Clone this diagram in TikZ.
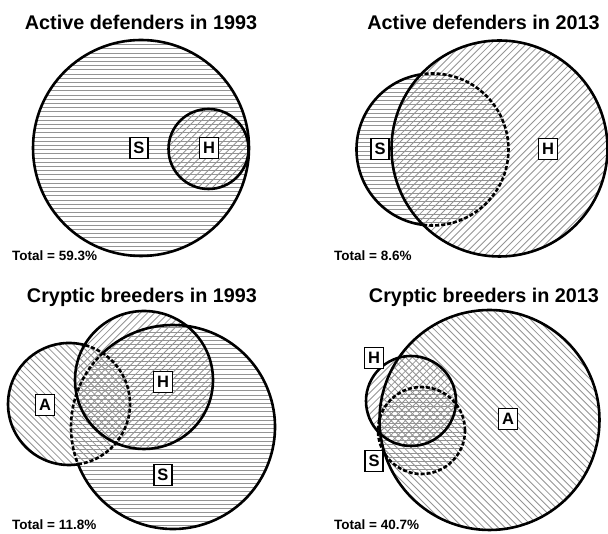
\documentclass[tikz,border=0pt]{standalone}
\usepackage{fontspec}
\setmainfont{Liberation Sans}
\definecolor{hatch}{gray}{0.58}
\tikzset{
  ring/.style={line width=2.6pt, draw=black},
  innerdash/.style={dash pattern=on 4pt off 2pt},
  hatchline/.style={draw=hatch, line width=0.85pt},
  setlabel/.style={draw, fill=white, line width=1.3pt, inner xsep=3.5pt, inner ysep=0pt,
    minimum height=21pt, font=\fontsize{16.5}{16.5}\selectfont\bfseries},
  paneltitle/.style={anchor=base, inner sep=0pt, font=\fontsize{19.8}{20}\selectfont\bfseries},
  total/.style={anchor=base west, inner sep=0pt, font=\fontsize{13.5}{14}\selectfont\bfseries},
}
% #1 x, #2 y, #3 radius, #4 angle, #5 spacing
\newcommand{\myhatch}[5]{%
  \begin{scope}
    \clip (#1,#2) circle[radius=#3];
    \begin{scope}[shift={(#1,#2)}, rotate=#4]
      \pgfmathsetmacro{\hsecond}{-115+#5}
      \foreach \d in {-115,\hsecond,...,115} \draw[hatchline] (-120,\d) -- (120,\d);
    \end{scope}
  \end{scope}}
\newcommand{\Shatch}[3]{\myhatch{#1}{#2}{#3}{0}{4.2}}
\newcommand{\Hhatch}[3]{\myhatch{#1}{#2}{#3}{45}{5}}
\newcommand{\Ahatch}[3]{\myhatch{#1}{#2}{#3}{-45}{5}}
\begin{document}
\begin{tikzpicture}[x=1pt,y=1pt]
\useasboundingbox (0,0) rectangle (608,534);

% ---------- Panel 1: Active defenders in 1993
\Shatch{141}{386}{108}
\Hhatch{208.5}{385}{40}
\draw[ring] (141,386) circle[radius=108];
\draw[ring] (208.5,385) circle[radius=40];
\node[paneltitle] (t1) at (141,504) {Active defenders in 1993};
\node[setlabel] (s1) at (139,386) {S};
\node[setlabel] (h1) at (209,386) {H};
\node[total] (n1) at (12,273) {Total = 59.3\%};

% ---------- Panel 2: Active defenders in 2013
\Shatch{432.5}{384.5}{76}
\Hhatch{499.5}{385.5}{108}
\draw[ring] (499.5,385.5) circle[radius=108];
\draw[ring] (432.5,384.5) ++(98.8:76) arc[start angle=98.8,end angle=263,radius=76];
\draw[ring,innerdash] (432.5,384.5) ++(-97:76) arc[start angle=-97,end angle=98.8,radius=76];
\node[paneltitle] (t2) at (483.5,504) {Active defenders in 2013};
\node[setlabel] (s2) at (380,385) {S};
\node[setlabel] (h2) at (548,385) {H};
\node[total] (n2) at (334,273) {Total = 8.6\%};

% ---------- Panel 3: Cryptic breeders in 1993
\Ahatch{69}{130}{61}
\Hhatch{144}{154}{69}
\Shatch{173}{107}{102}
\draw[ring] (144,154) circle[radius=69];
\draw[ring] (69,130) ++(75.2:61) arc[start angle=75.2,end angle=278.5,radius=61];
\draw[ring,innerdash] (69,130) ++(-81.5:61) arc[start angle=-81.5,end angle=75.2,radius=61];
\draw[ring] (173,107) ++(201.4:102) arc[start angle=201.4,end angle=493.6,radius=102];
\draw[ring,innerdash] (173,107) ++(133.6:102) arc[start angle=133.6,end angle=201.4,radius=102];
\node[paneltitle] (t3) at (142,231) {Cryptic breeders in 1993};
\node[setlabel] (a3) at (45,129) {A};
\node[setlabel] (h3) at (163,152) {H};
\node[setlabel] (s3) at (163,59) {S};
\node[total] (n3) at (12,4) {Total = 11.8\%};

% ---------- Panel 4: Cryptic breeders in 2013
\Ahatch{489.5}{114}{110}
\Hhatch{411}{133}{45}
\Shatch{421.5}{103.5}{43.5}
\draw[ring] (489.5,114) circle[radius=110];
\draw[ring] (411,133) circle[radius=45];
\draw[ring,innerdash] (421.5,103.5) circle[radius=43.5];
\node[paneltitle] (t4) at (484,231) {Cryptic breeders in 2013};
\node[setlabel] (h4) at (374,176) {H};
\node[setlabel] (a4) at (508,115) {A};
\node[setlabel] (s4) at (374,73) {S};
\node[total] (n4) at (334,4) {Total = 40.7\%};
\end{tikzpicture}
\end{document}
